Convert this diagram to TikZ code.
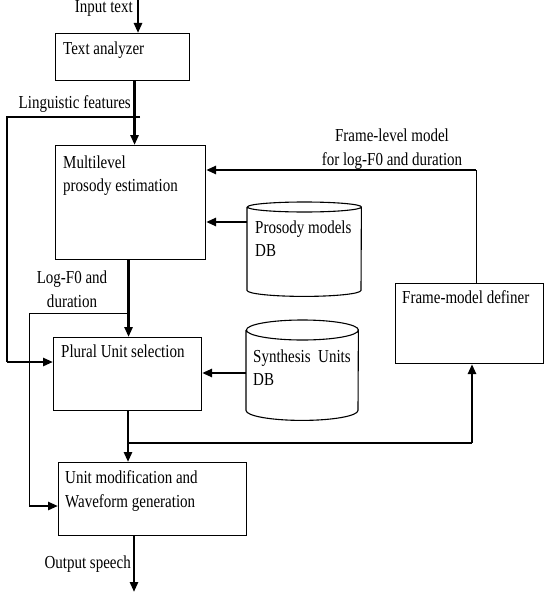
\documentclass[tikz,border=0pt]{standalone}
\usepackage{fontspec}
\setmainfont{Liberation Serif}[FakeStretch=0.82]
\usetikzlibrary{arrows.meta,calc}
\begin{document}
\begin{tikzpicture}[x=1pt,y=-1pt,
  box/.style={draw, line width=1.1pt, anchor=north west, inner sep=0pt},
  area/.style={anchor=north west, inner sep=0pt},
  txt/.style={anchor=base west, inner sep=0pt, font=\fontsize{18.3}{23.5}\selectfont, align=left},
  lbl/.style={anchor=base, inner sep=0pt, font=\fontsize{18.3}{23.5}\selectfont, align=center},
  cyl/.style={draw, line width=1.1pt},
  thk/.style={line width=2.6pt},
  thn/.style={line width=1pt},
  arr/.style={thk, -{Triangle[length=10pt,width=8pt]}}
]
\useasboundingbox (0,0) rectangle (544,594);
% boxes
\node[box, minimum width=134pt, minimum height=47pt] (ta) at (55,33) {};
\node[box, minimum width=150pt, minimum height=114pt] (mp) at (55,145) {};
\node[box, minimum width=148pt, minimum height=73pt] (pu) at (53,337) {};
\node[box, minimum width=188pt, minimum height=73pt] (um) at (58,462) {};
\node[box, minimum width=148pt, minimum height=80pt] (fm) at (395,283) {};
% cylinders
\node[area, minimum width=114pt, minimum height=83pt] (pdb) at (247,207) {};
\draw[cyl] (pdb.north west) -- (pdb.south west)
  arc[start angle=180, end angle=360, x radius=57pt, y radius=6pt]
  -- (pdb.north east)
  arc[start angle=0, end angle=360, x radius=57pt, y radius=5pt];
\node[area, minimum width=112pt, minimum height=80pt] (sdb) at (246,330) {};
\draw[cyl] (sdb.north west) -- (sdb.south west)
  arc[start angle=180, end angle=360, x radius=56pt, y radius=10pt]
  -- (sdb.north east)
  arc[start angle=0, end angle=360, x radius=56pt, y radius=10pt];
% texts in boxes (base anchor = baseline of the last line)
\node[txt] (tat) at (63,55) {Text analyzer};
\node[txt] (mpt) at (63,191.5) {Multilevel\\prosody estimation};
\node[txt] (put) at (61,357) {Plural Unit selection};
\node[txt] (umt) at (65,507) {Unit modification and\\Waveform generation};
\node[txt] (fmt) at (402,303) {Frame-model definer};
\node[txt] (pdbt) at (255,256.5) {Prosody models\\DB};
\node[txt] (sdbt) at (253,385.5) {Synthesis~ Units\\DB};
% labels
\node[lbl, anchor=base east] (lin) at (133,13) {Input text};
\node[lbl, anchor=base east] (llf) at (131,108) {Linguistic features};
\node[lbl] (lfl) at (392,165) {Frame-level model\\for log-F0 and duration};
\node[lbl] (llog) at (72,307) {Log-F0 and\\duration};
\node[lbl, anchor=base east] (lout) at (131,568) {Output speech};
% coordinates
\coordinate (top) at (138,0);
\coordinate (bot) at (134,592);
\coordinate (lfa) at (140,117);
\coordinate (lfb) at (7,117);
\coordinate (lga) at (128,313);
\coordinate (lgb) at (29,313);
\coordinate (br) at (128,443);
\coordinate (fmx) at (472,443);
\coordinate (fbx) at (476,170);
% connectors
\draw[arr] (top) -- (top |- ta.north);
\draw[arr] ([xshift=12pt]ta.south) -- ([xshift=12pt]ta.south |- mp.north);
\draw[thk] (lfa) -- (lfb) -- (lfb |- 0,362);
\draw[arr] (lfb |- 0,362) -- (pu.west |- 0,362);
\draw[arr] ([xshift=-2pt]mp.south) -- ([xshift=-2pt]mp.south |- pu.north);
\draw[thn] (lga) -- (lgb) -- (lgb |- 0,506);
\draw[arr] (lgb |- 0,506) -- (um.west |- 0,506);
\draw[arr] (br |- pu.south) -- (br |- um.north);
\draw[thk] (br) -- (fmx);
\draw[arr] (fmx) -- (fmx |- fm.south);
\draw[thn] (fbx |- fm.north) -- (fbx);
\draw[arr] (fbx) -- (mp.east |- fbx);
\draw[arr] (pdb.west |- 0,222) -- (mp.east |- 0,222);
\draw[arr] (sdb.west |- 0,373) -- (pu.east |- 0,373);
\draw[arr] (bot |- um.south) -- (bot);
\end{tikzpicture}
\end{document}
